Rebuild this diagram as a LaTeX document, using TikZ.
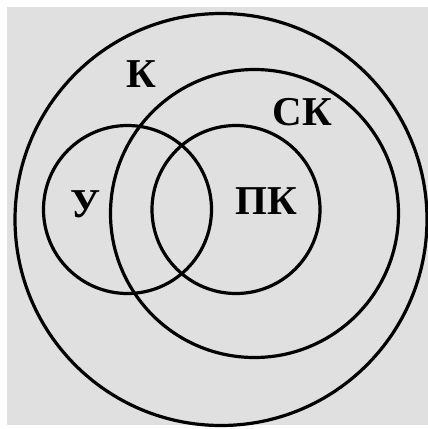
\documentclass[tikz,border=0pt]{standalone}
\usepackage{fontspec}
\setmainfont{Liberation Serif}
\begin{document}
\begin{tikzpicture}[x=1pt,y=-1pt,
  ring/.style={draw=black,line width=3.2pt,circle,inner sep=0pt,outer sep=0pt},
  lbl/.style={font=\fontsize{41}{41}\selectfont\bfseries,inner sep=0pt}]
\useasboundingbox (0,0) rectangle (428,429);
\fill[white] (0,0) rectangle (428,429);
\fill[black!12] (7,7) rectangle (428,425);
\node[ring,minimum size=412pt] (K) at (221,219.5) {};
\node[ring,minimum size=288pt] (SK) at (254.5,213.5) {};
\node[ring,minimum size=168pt] (U) at (127.5,209.5) {};
\node[ring,minimum size=168pt] (PK) at (236,209.5) {};
\node[lbl] (tK) at (141.5,74) {К};
\node[lbl] (tSK) at (302.5,112.5) {СК};
\node[lbl] (tU) at (85.5,204) {У};
\node[lbl] (tPK) at (266,201.5) {ПК};
\end{tikzpicture}
\end{document}
